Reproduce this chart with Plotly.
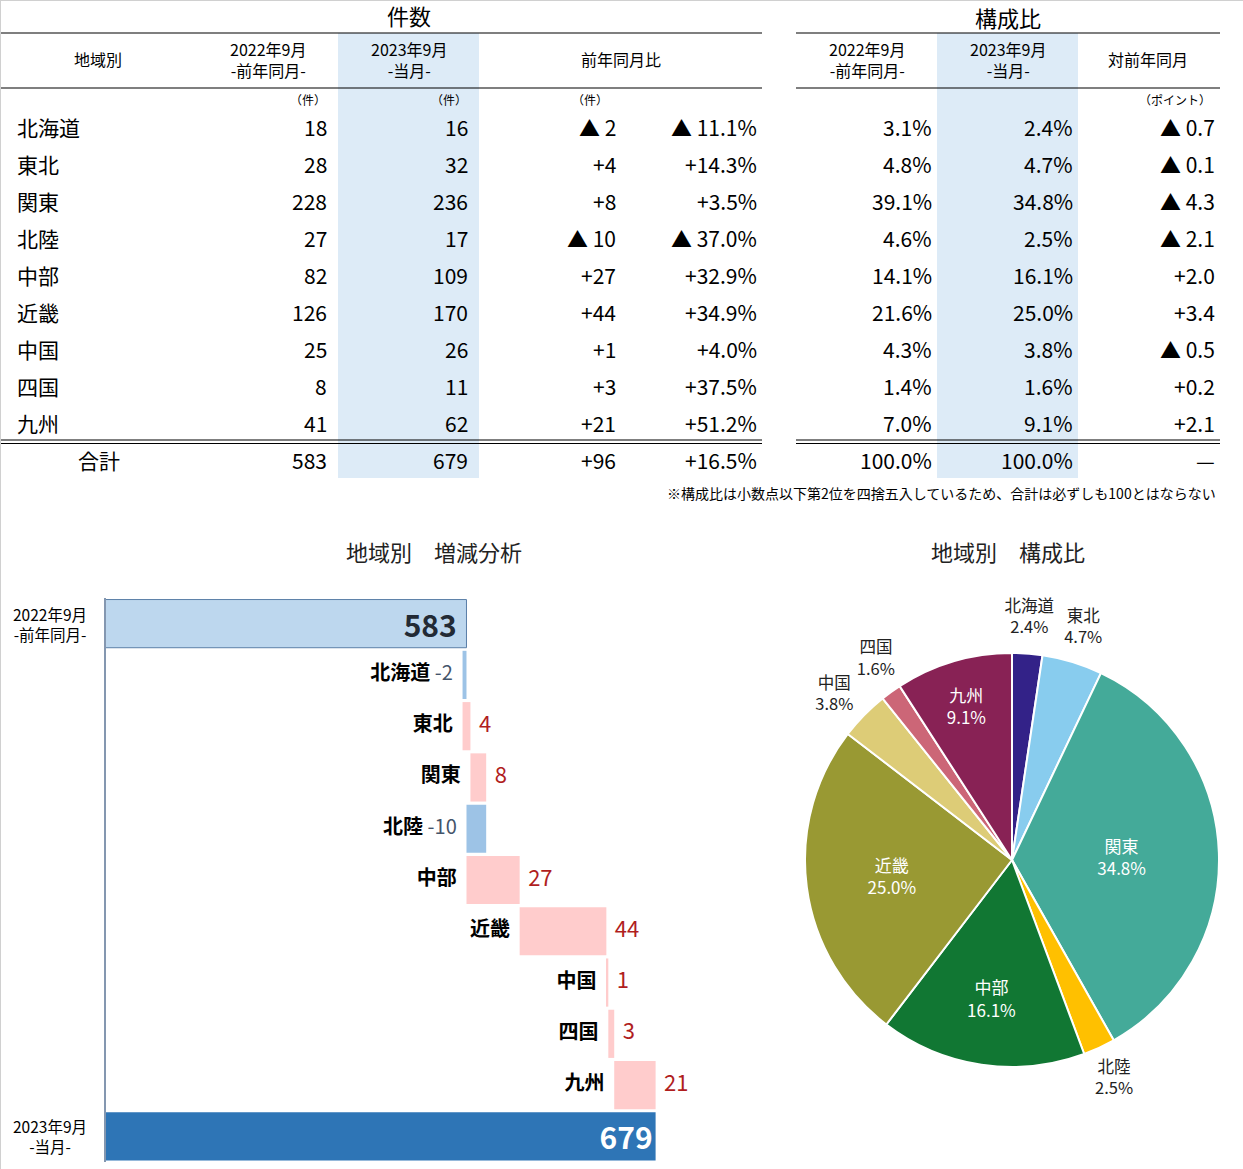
import math
import plotly.graph_objects as go

# 地域別データ（2023年9月 / 前年同月）
regions = ["北海道", "東北", "関東", "北陸", "中部", "近畿", "中国", "四国", "九州"]
count_2022 = [18, 28, 228, 27, 82, 126, 25, 8, 41]
count_2023 = [16, 32, 236, 17, 109, 170, 26, 11, 62]
diff_count = [-2, 4, 8, -10, 27, 44, 1, 3, 21]
diff_pct = [-11.1, 14.3, 3.5, -37.0, 32.9, 34.9, 4.0, 37.5, 51.2]
share_2022 = [3.1, 4.8, 39.1, 4.6, 14.1, 21.6, 4.3, 1.4, 7.0]
share_2023 = [2.4, 4.7, 34.8, 2.5, 16.1, 25.0, 3.8, 1.6, 9.1]
share_diff = [-0.7, -0.1, -4.3, -2.1, 2.0, 3.4, -0.5, 0.2, 2.1]

total_2022 = 583
total_2023 = 679
total_diff = 96
total_pct = 16.5
total_share = 100.0

label_2022 = "2022年9月"
label_2023 = "2023年9月"

FONT = "Noto Sans CJK JP"
W, H = 1243, 1169

pie_colors = ["#332288", "#88CCEE", "#44AA99", "#FFC000", "#117733",
              "#999933", "#DDCC77", "#CC6677", "#882255"]
# 円グラフの中に書くか外に書くか
pie_inside = [False, False, True, False, True, True, False, False, True]


def fmt_num(v):
    return f"▲ {abs(v)}" if v < 0 else f"+{v}"


def fmt_pct(v):
    return f"▲ {abs(v):.1f}%" if v < 0 else f"+{v:.1f}%"


def fmt_pt(v):
    return f"▲ {abs(v):.1f}" if v < 0 else f"+{v:.1f}"


fig = go.Figure()

# ---------------- 表（件数・構成比） ----------------
row_y = [127 + 37 * i for i in range(len(regions))]
total_y = 460
annos = []


def cell(x, y, text, anchor="right", size=21, color="#000"):
    annos.append(dict(x=x, y=y, xref="x2", yref="y2", text=text, showarrow=False,
                      xanchor=anchor, yanchor="middle", align="center",
                      font=dict(family=FONT, size=size, color=color)))


# タイトル
cell(409, 15, "件数", "center", 22)
cell(1008, 17, "構成比", "center", 22)

# 見出し
cell(98, 59, "地域別", "center", 16)
cell(268, 59, f"{label_2022}<br>-前年同月-", "center", 16)
cell(409, 59, f"{label_2023}<br>-当月-", "center", 16)
cell(621, 59, "前年同月比", "center", 16)
cell(867, 59, f"{label_2022}<br>-前年同月-", "center", 16)
cell(1008, 59, f"{label_2023}<br>-当月-", "center", 16)
cell(1148, 59, "対前年同月", "center", 16)

# 単位
cell(328, 99, "（件）", "right", 12)
cell(469, 99, "（件）", "right", 12)
cell(610, 99, "（件）", "right", 12)
cell(1213, 99, "（ポイント）", "right", 12)

# 明細
for i, r in enumerate(regions):
    y = row_y[i]
    cell(15, y, r, "left")
    cell(329, y, str(count_2022[i]))
    cell(470, y, str(count_2023[i]))
    cell(618, y, fmt_num(diff_count[i]))
    cell(759, y, fmt_pct(diff_pct[i]))
    cell(934, y, f"{share_2022[i]:.1f}%")
    cell(1075, y, f"{share_2023[i]:.1f}%")
    cell(1217, y, fmt_pt(share_diff[i]))

# 合計
cell(99, total_y, "合計", "center")
cell(329, total_y, str(total_2022))
cell(470, total_y, str(total_2023))
cell(618, total_y, fmt_num(total_diff))
cell(759, total_y, fmt_pct(total_pct))
cell(934, total_y, f"{total_share:.1f}%")
cell(1075, total_y, f"{total_share:.1f}%")
cell(1217, total_y, "—")

cell(1218, 493, "※構成比は小数点以下第2位を四捨五入しているため、合計は必ずしも100とはならない", "right", 14)

# 罫線・当月列の網掛け
shapes = []
for x0, x1 in [(338, 479), (937, 1078)]:
    shapes.append(dict(type="rect", xref="x2", yref="y2", x0=x0, x1=x1, y0=33, y1=478,
                       fillcolor="#DDEBF7", line=dict(width=0), layer="below"))
for x0, x1 in [(0, 762), (796, 1220)]:
    for yy in [33, 88, 440, 443.5]:
        shapes.append(dict(type="line", xref="x2", yref="y2", x0=x0, x1=x1, y0=yy, y1=yy,
                           line=dict(color="#000", width=1.2)))
# 外枠（上・左）
shapes.append(dict(type="line", xref="paper", yref="paper", x0=0, x1=1, y0=1, y1=1,
                   line=dict(color="#D0D0D0", width=2)))
shapes.append(dict(type="line", xref="paper", yref="paper", x0=0, x1=0, y0=0, y1=1,
                   line=dict(color="#D0D0D0", width=2)))

fig.add_trace(go.Scatter(x=[0, W], y=[0, 500], mode="markers", xaxis="x2", yaxis="y2",
                         marker=dict(opacity=0), hoverinfo="skip", showlegend=False))

# ---------------- 地域別 増減分析 ----------------
starts = []
cum = total_2022
for d in diff_count:
    starts.append(cum)
    cum += d
ends = [s + d for s, d in zip(starts, diff_count)]

fig.add_trace(go.Bar(
    y=[label_2022], x=[total_2022], base=0, orientation="h",
    marker=dict(color="#BDD7EE", line=dict(color="#5B7FA8", width=1)),
    text=[f"<b>{total_2022}</b>\u00a0"], textposition="inside", insidetextanchor="end",
    textfont=dict(family=FONT, size=30, color="#222A35"), constraintext="none",
    showlegend=False, hoverinfo="skip"))

up = [i for i, d in enumerate(diff_count) if d >= 0]
down = [i for i, d in enumerate(diff_count) if d < 0]

fig.add_trace(go.Bar(
    y=[regions[i] for i in up], x=[diff_count[i] for i in up],
    base=[starts[i] for i in up], orientation="h",
    marker=dict(color="#FFCCCC", line=dict(width=0)), showlegend=False, hoverinfo="skip"))
fig.add_trace(go.Bar(
    y=[regions[i] for i in down], x=[diff_count[i] for i in down],
    base=[starts[i] for i in down], orientation="h",
    marker=dict(color="#9DC3E6", line=dict(width=0)), showlegend=False, hoverinfo="skip"))

fig.add_trace(go.Bar(
    y=[label_2023], x=[total_2023], base=0, orientation="h",
    marker=dict(color="#2E75B6", line=dict(width=0)),
    text=[f"<b>{total_2023}</b>"], textposition="inside", insidetextanchor="end",
    textfont=dict(family=FONT, size=30, color="white"), constraintext="none",
    showlegend=False, hoverinfo="skip"))

# 地域名（バーの左）
name_text = []
for r, d in zip(regions, diff_count):
    if d < 0:
        name_text.append(f"<b>{r}</b> <span style='color:#44546A;font-weight:normal'>{d}</span>")
    else:
        name_text.append(f"<b>{r}</b>")
fig.add_trace(go.Scatter(
    x=[min(s, e) for s, e in zip(starts, ends)], y=regions, mode="text+markers",
    marker=dict(size=14, opacity=0),
    text=name_text, textposition="middle left", cliponaxis=False,
    textfont=dict(family=FONT, size=20, color="#000"), showlegend=False, hoverinfo="skip"))
# 増加数（バーの右）
fig.add_trace(go.Scatter(
    x=[ends[i] for i in up], y=[regions[i] for i in up], mode="text+markers",
    marker=dict(size=12, opacity=0),
    text=[str(diff_count[i]) for i in up], textposition="middle right", cliponaxis=False,
    textfont=dict(family=FONT, size=22, color="#B01E1E"), showlegend=False, hoverinfo="skip"))

for lab, sub in [(label_2022, "-前年同月-"), (label_2023, "-当月-")]:
    annos.append(dict(x=50 / W, y=lab, xref="paper", yref="y", text=f"{lab}<br>{sub}",
                      showarrow=False, xanchor="center", yanchor="middle", align="center",
                      font=dict(family=FONT, size=15.5, color="#000")))

# ---------------- 地域別 構成比 ----------------
cx, cy, rad = 1012, 860, 207  # 円の中心と半径（px）
pie_dom = dict(x=[(cx - rad) / W, (cx + rad) / W], y=[1 - (cy + rad) / H, 1 - (cy - rad) / H])
fig.add_trace(go.Pie(
    labels=regions, values=count_2023, sort=False, direction="clockwise", rotation=0,
    marker=dict(colors=pie_colors, line=dict(color="white", width=2)),
    texttemplate="%{label}<br>%{percent:.1%}",
    textposition=["inside" if f else "none" for f in pie_inside],
    insidetextorientation="horizontal",
    insidetextfont=dict(family=FONT, size=17, color="white"),
    domain=pie_dom, showlegend=False, hoverinfo="label+percent"))

# 外側ラベル：各スライスの中央角度の方向、半径の1.17倍の位置に置く
pie_total = sum(count_2023)
mid_deg = []
acc = 0
for v in count_2023:
    mid_deg.append((acc + v / 2) / pie_total * 360)
    acc += v
out_idx = [i for i, f in enumerate(pie_inside) if not f]
lab_deg = [mid_deg[i] for i in out_idx]
# 近すぎるラベル同士は角度を少し離す
MIN_GAP = 13
for k in range(len(lab_deg) - 1):
    gap = lab_deg[k + 1] - lab_deg[k]
    if gap < MIN_GAP:
        lab_deg[k] -= (MIN_GAP - gap) / 2
        lab_deg[k + 1] += (MIN_GAP - gap) / 2
fig.add_trace(go.Scatter(
    x=[1.17 * math.sin(math.radians(t)) for t in lab_deg],
    y=[1.17 * math.cos(math.radians(t)) for t in lab_deg],
    xaxis="x3", yaxis="y3", mode="text",
    text=[f"{regions[i]}<br>{count_2023[i] / pie_total * 100:.1f}%" for i in out_idx],
    textposition="middle center", cliponaxis=False,
    textfont=dict(family=FONT, size=16.5, color="#222"), showlegend=False, hoverinfo="skip"))

# ラベル用の補助軸（1単位 = 半径）
x3_rng = [-1.3, 1.1]
y3_rng = [-1.3, 1.3]
x3_dom = [(cx + rad * x3_rng[0]) / W, (cx + rad * x3_rng[1]) / W]
y3_dom = [1 - (cy - rad * y3_rng[0]) / H, 1 - (cy - rad * y3_rng[1]) / H]

annos.append(dict(x=434 / W, y=1 - 551 / H, xref="paper", yref="paper", text="地域別　増減分析",
                  showarrow=False, xanchor="center", yanchor="middle",
                  font=dict(family=FONT, size=22, color="#222")))
annos.append(dict(x=1008 / W, y=1 - 551 / H, xref="paper", yref="paper", text="地域別　構成比",
                  showarrow=False, xanchor="center", yanchor="middle",
                  font=dict(family=FONT, size=22, color="#222")))

fig.update_layout(
    width=W, height=H, margin=dict(l=0, r=0, t=0, b=0),
    paper_bgcolor="white", plot_bgcolor="rgba(0,0,0,0)",
    font=dict(family=FONT),
    barmode="overlay", bargap=0.06,
    xaxis=dict(domain=[106 / W, 760 / W], range=[400, 732], visible=False, fixedrange=True),
    yaxis=dict(domain=[1 - 1162 / H, 1 - 598 / H], categoryorder="array",
               categoryarray=[label_2022] + regions + [label_2023], autorange="reversed",
               showticklabels=False, ticks="", showgrid=False, zeroline=False,
               showline=True, linecolor="#8497B0", linewidth=1.5),
    xaxis2=dict(domain=[0, 1], range=[0, W], visible=False, anchor="y2"),
    yaxis2=dict(domain=[1 - 500 / H, 1], range=[500, 0], visible=False, anchor="x2"),
    xaxis3=dict(domain=x3_dom, range=x3_rng, visible=False, anchor="y3"),
    yaxis3=dict(domain=y3_dom, range=y3_rng, visible=False, anchor="x3"),
    annotations=annos, shapes=shapes,
)

fig.write_html("out.html", config={"displayModeBar": False},
               post_script="document.body.style.margin='0px';")
